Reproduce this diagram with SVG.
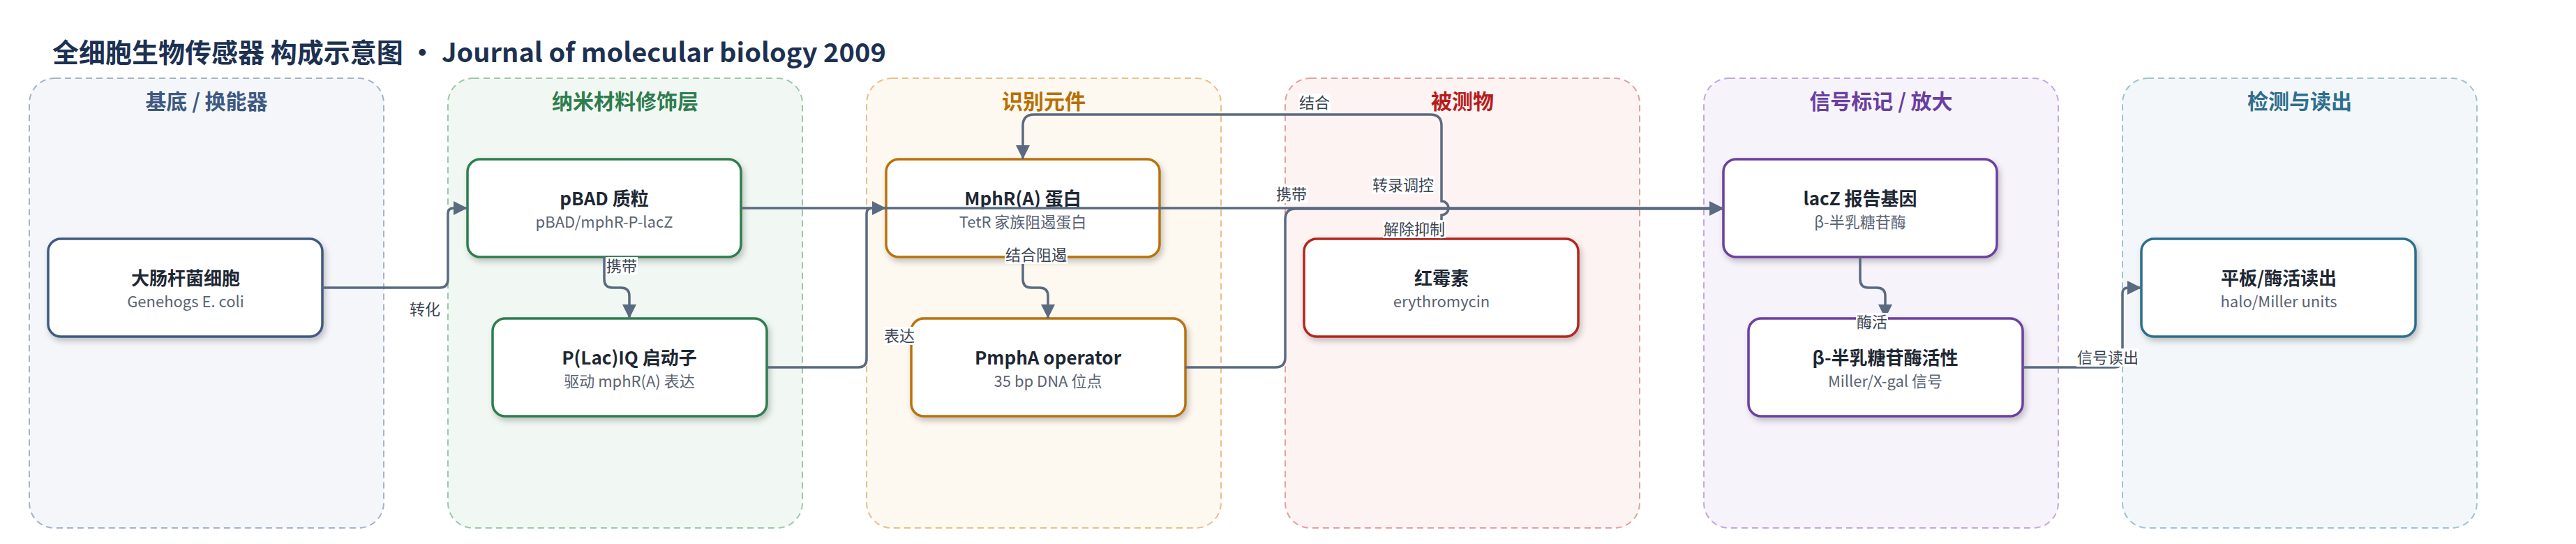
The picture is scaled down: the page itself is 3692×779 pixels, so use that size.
<svg xmlns="http://www.w3.org/2000/svg" width="3692" height="779" viewBox="0 0 3692 779">
<defs>
<style>
text{font-family:"Noto Sans CJK SC","Noto Sans",sans-serif}
.grp rect{stroke-width:2;stroke-dasharray:9 6}
.gt{font-size:30px;font-weight:700;text-anchor:middle}
.node rect{fill:#ffffff;stroke-width:3.5;filter:url(#sh)}
.nt{font-size:26px;font-weight:700;fill:#1e2733;text-anchor:middle}
.ns{font-size:22px;fill:#5a6372;text-anchor:middle}
.edge{fill:none;stroke:#5a6a80;stroke-width:3.5;marker-end:url(#arr)}
.line{fill:none;stroke:#5a6a80;stroke-width:3.5}
.lbl rect{fill:#ffffff}
.lbl text{font-size:22px;fill:#3b4452;text-anchor:middle}
</style>
<marker id="arr" markerUnits="userSpaceOnUse" markerWidth="20" markerHeight="20" refX="20" refY="10" orient="auto"><path d="M0,0 L20,10 L0,20 z" fill="#5a6a80"/></marker>
<filter id="sh" x="-10%" y="-15%" width="125%" height="145%"><feDropShadow dx="3" dy="5" stdDeviation="4" flood-color="#000000" flood-opacity="0.22"/></filter>
</defs>
<rect width="3692" height="779" fill="#ffffff"/>
<text x="75" y="89" font-size="38" font-weight="700" fill="#1c3152">全细胞生物传感器 构成示意图 · Journal of molecular biology 2009</text>

<g id="groups">
<g id="grp-substrate" class="grp"><rect x="42" y="112" width="508" height="644" rx="36" fill="#f4f6fa" stroke="#a4b3c8"/><text class="gt" x="296" y="156" fill="#3d5a80">基底 / 换能器</text></g>
<g id="grp-nano" class="grp"><rect x="642" y="112" width="508" height="644" rx="36" fill="#f1f8f3" stroke="#9dc8aa"/><text class="gt" x="896" y="156" fill="#2e7d4f">纳米材料修饰层</text></g>
<g id="grp-recog" class="grp"><rect x="1242" y="112" width="508" height="644" rx="36" fill="#fdf8f0" stroke="#e6c08c"/><text class="gt" x="1496" y="156" fill="#b86e00">识别元件</text></g>
<g id="grp-analyte" class="grp"><rect x="1842" y="112" width="508" height="644" rx="36" fill="#fdf3f3" stroke="#e4a0a0"/><text class="gt" x="2096" y="156" fill="#b71c1c">被测物</text></g>
<g id="grp-signal" class="grp"><rect x="2442" y="112" width="508" height="644" rx="36" fill="#f7f3fb" stroke="#c3a8e0"/><text class="gt" x="2696" y="156" fill="#6a3fa0">信号标记 / 放大</text></g>
<g id="grp-detect" class="grp"><rect x="3042" y="112" width="508" height="644" rx="36" fill="#f3f7f9" stroke="#9ec3d3"/><text class="gt" x="3296" y="156" fill="#2e6e8e">检测与读出</text></g>
</g>

<g id="n-ecoli" class="node"><rect x="69" y="342" width="393" height="140" rx="18" stroke="#3f5a80"/><text class="nt" x="266" y="408">大肠杆菌细胞</text><text class="ns" x="266" y="440">Genehogs E. coli</text></g>
<g id="n-pbad" class="node"><rect x="670" y="228" width="392" height="140" rx="18" stroke="#2e7d4f"/><text class="nt" x="866" y="294">pBAD 质粒</text><text class="ns" x="866" y="326">pBAD/mphR-P-lacZ</text></g>
<g id="n-plac" class="node"><rect x="706" y="456" width="393" height="140" rx="18" stroke="#2e7d4f"/><text class="nt" x="902" y="522">P(Lac)IQ 启动子</text><text class="ns" x="902" y="554">驱动 mphR(A) 表达</text></g>
<g id="n-mphr" class="node"><rect x="1270" y="228" width="392" height="140" rx="18" stroke="#b8720a"/><text class="nt" x="1466" y="294">MphR(A) 蛋白</text><text class="ns" x="1466" y="326">TetR 家族阻遏蛋白</text></g>
<g id="n-pmpha" class="node"><rect x="1306" y="456" width="393" height="140" rx="18" stroke="#b8720a"/><text class="nt" x="1502" y="522">PmphA operator</text><text class="ns" x="1502" y="554">35 bp DNA 位点</text></g>
<g id="n-ery" class="node"><rect x="1869" y="342" width="393" height="140" rx="18" stroke="#b5261e"/><text class="nt" x="2066" y="408">红霉素</text><text class="ns" x="2066" y="440">erythromycin</text></g>
<g id="n-lacz" class="node"><rect x="2470" y="228" width="392" height="140" rx="18" stroke="#6a3fa0"/><text class="nt" x="2666" y="294">lacZ 报告基因</text><text class="ns" x="2666" y="326">β-半乳糖苷酶</text></g>
<g id="n-bgal" class="node"><rect x="2506" y="456" width="393" height="140" rx="18" stroke="#6a3fa0"/><text class="nt" x="2702" y="522">β-半乳糖苷酶活性</text><text class="ns" x="2702" y="554">Miller/X-gal 信号</text></g>
<g id="n-readout" class="node"><rect x="3069" y="342" width="393" height="140" rx="18" stroke="#2f6e8e"/><text class="nt" x="3266" y="408">平板/酶活读出</text><text class="ns" x="3266" y="440">halo/Miller units</text></g>

<g id="connectors">
<path class="edge" d="M462,412 H630 Q642,412 642,400 V306 Q642,298 650,298 H670"/>
<path class="edge" d="M866,368 V400 Q866,412 878,412 H890 Q902,412 902,424 V456"/>
<path class="edge" d="M1099,526 H1230 Q1242,526 1242,514 V306 Q1242,298 1250,298 H1270"/>
<path class="edge" d="M1062,298 H2470"/>
<path class="edge" d="M1466,368 V400 Q1466,412 1478,412 H1490 Q1502,412 1502,424 V456"/>
<path class="edge" d="M1699,526 H1828 Q1842,526 1842,512 V314 Q1842,299 1857,299 H2470"/>
<path class="edge" d="M2066,342 V308 A10,10 0 0 0 2066,288 V180 Q2066,164 2050,164 H1482 Q1466,164 1466,180 V228"/>
<path class="edge" d="M2666,368 V400 Q2666,412 2678,412 H2690 Q2702,412 2702,424 V456"/>
<path class="edge" d="M2899,526 H3030 Q3042,526 3042,514 V420 Q3042,412 3050,412 H3069"/>
<g class="lbl">
<rect x="586" y="430" width="46" height="26"/><text x="609" y="451">转化</text>
<rect x="868" y="368" width="46" height="26"/><text x="891" y="389">携带</text>
<rect x="1266" y="468" width="46" height="26"/><text x="1289" y="489">表达</text>
<rect x="1440" y="352" width="90" height="26"/><text x="1485" y="373">结合阻遏</text>
<rect x="1828" y="265" width="46" height="26"/><text x="1851" y="286">携带</text>
<rect x="1861" y="134" width="46" height="26"/><text x="1884" y="155">结合</text>
<rect x="1966" y="252" width="90" height="26"/><text x="2011" y="273">转录调控</text>
<rect x="1982" y="315" width="90" height="26"/><text x="2027" y="336">解除抑制</text>
<rect x="2660" y="448" width="46" height="26"/><text x="2683" y="469">酶活</text>
<rect x="2976" y="499" width="90" height="26"/><text x="3021" y="520">信号读出</text>
</g>
</g>
</svg>
